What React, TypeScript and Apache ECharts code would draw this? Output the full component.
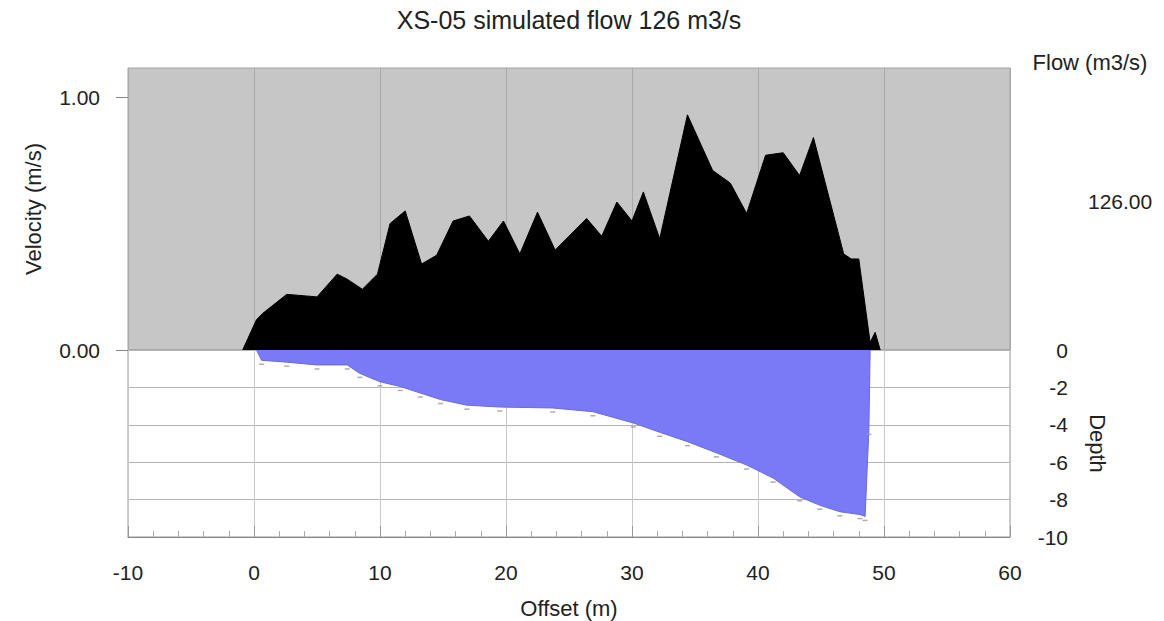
import React, { useEffect, useRef } from "react";
import * as echarts from "echarts";

// Cross-section XS-05: simulated velocity profile (top) and bed profile (bottom)
const TITLE = "XS-05 simulated flow 126 m3/s";
const FLOW = 126;

// Velocity distribution across the section
const velOffset = [-0.9, 0.2, 0.7, 2.6, 5.0, 6.6, 7.4, 8.6, 9.8, 10.8, 12.0, 13.3, 14.5, 15.8, 17.1, 18.6, 19.8, 21.1, 22.5, 23.9, 26.4, 27.6, 28.8, 30.0, 30.9, 32.2, 34.4, 36.4, 37.8, 39.1, 40.6, 42.0, 43.3, 44.4, 46.8, 47.4, 48.0, 48.9, 49.3, 49.7];
const velValue = [0, 0.12, 0.145, 0.22, 0.21, 0.3, 0.28, 0.24, 0.3, 0.5, 0.55, 0.34, 0.375, 0.51, 0.53, 0.43, 0.51, 0.38, 0.545, 0.395, 0.52, 0.45, 0.585, 0.51, 0.625, 0.44, 0.93, 0.71, 0.66, 0.54, 0.77, 0.78, 0.69, 0.84, 0.38, 0.36, 0.36, 0.03, 0.07, 0];

// Surveyed bed profile (depth below water surface)
const bedOffset = [0.2, 0.6, 2.6, 5.0, 7.4, 8.4, 10.0, 11.6, 13.2, 14.8, 16.9, 19.5, 23.7, 26.9, 30.1, 32.2, 34.4, 36.7, 39.1, 41.2, 43.3, 44.9, 46.5, 48.1, 48.5, 48.8, 48.9];
const bedDepth = [0, -0.55, -0.65, -0.8, -0.8, -1.25, -1.7, -1.95, -2.3, -2.65, -2.95, -3.05, -3.1, -3.3, -3.9, -4.4, -4.9, -5.5, -6.15, -6.85, -7.85, -8.3, -8.65, -8.8, -8.9, -4.3, 0];

const velocityTicks = [0, 1];
const flowTicks = [FLOW];

const FONT = "Liberation Sans, Arial, sans-serif";
const TXT = "#222";

export default function App() {
  const ref = useRef<HTMLDivElement>(null);

  useEffect(() => {
    if (!ref.current) return;
    const chart = echarts.init(ref.current, null, { renderer: "svg" });

    const velData = velOffset.map((x, i) => [x, velValue[i]]);
    const bedData = bedOffset.map((x, i) => [x, bedDepth[i]]);
    const bedMarks = bedData.filter((p) => p[1] < -0.3);

    chart.setOption({
      animation: false,
      backgroundColor: "#fff",
      textStyle: { fontFamily: FONT, color: TXT },
      graphic: [
        {
          type: "text",
          x: 569,
          y: 20,
          style: { text: TITLE, fontSize: 25, fontFamily: FONT, fill: TXT, textAlign: "center", textVerticalAlign: "middle" },
        },
        {
          type: "text",
          x: 1090,
          y: 62,
          style: { text: "Flow (m3/s)", fontSize: 22, fontFamily: FONT, fill: TXT, textAlign: "center", textVerticalAlign: "middle" },
        },
      ],
      grid: [
        { left: 128, width: 882, top: 68, height: 282, show: true, backgroundColor: "#c6c6c6", borderColor: "#a3a3a3", borderWidth: 1 },
        { left: 128, width: 882, top: 350, height: 187, show: true, backgroundColor: "#fff", borderColor: "#9a9a9a", borderWidth: 1 },
      ],
      xAxis: [
        {
          type: "value", gridIndex: 0, min: -10, max: 60, interval: 10,
          axisLine: { show: false, onZero: false }, axisTick: { show: false }, axisLabel: { show: false },
          splitLine: { show: true, lineStyle: { color: "#a9a9a9", width: 1 } },
        },
        {
          type: "value", gridIndex: 1, position: "bottom", min: -10, max: 60, interval: 10,
          name: "Offset (m)", nameLocation: "middle", nameGap: 60,
          nameTextStyle: { fontSize: 22, fontFamily: FONT, color: TXT },
          axisLine: { show: true, onZero: false, lineStyle: { color: "#888" } },
          axisTick: { show: true, inside: true, length: 11, lineStyle: { color: "#999" } },
          minorTick: { show: true, splitNumber: 5, length: 6, lineStyle: { color: "#aaa" } },
          axisLabel: { fontSize: 21, fontFamily: FONT, color: TXT, margin: 25 },
          splitLine: { show: true, lineStyle: { color: "#c8c8c8", width: 1 } },
        },
      ],
      yAxis: [
        {
          type: "value", gridIndex: 0, position: "left", min: 0, max: 1.115,
          name: "Velocity (m/s)", nameLocation: "middle", nameGap: 84,
          nameTextStyle: { fontSize: 22, fontFamily: FONT, color: TXT },
          axisLine: { show: false, onZero: false },
          axisTick: { show: true, length: 12, customValues: velocityTicks, lineStyle: { color: "#888" } },
          axisLabel: { fontSize: 21, fontFamily: FONT, color: TXT, margin: 28, customValues: velocityTicks, formatter: (v: number) => v.toFixed(2) },
          splitLine: { show: false },
        },
        {
          type: "value", gridIndex: 0, position: "right", min: 0, max: 240,
          axisLine: { show: false, onZero: false }, axisTick: { show: false },
          axisLabel: { fontSize: 21, fontFamily: FONT, color: TXT, margin: 78, customValues: flowTicks, formatter: (v: number) => v.toFixed(2) },
          splitLine: { show: false },
        },
        {
          type: "value", gridIndex: 1, position: "right", min: -10, max: 0, interval: 2,
          name: "Depth", nameLocation: "middle", nameGap: 76, nameRotate: -90,
          nameTextStyle: { fontSize: 22, fontFamily: FONT, color: TXT },
          axisLine: { show: false, onZero: false }, axisTick: { show: false },
          axisLabel: { fontSize: 21, fontFamily: FONT, color: TXT, margin: 58, align: "right" },
          splitLine: { show: true, lineStyle: { color: "#b4b4b4", width: 1 } },
        },
      ],
      series: [
        {
          name: "Velocity", type: "line", xAxisIndex: 0, yAxisIndex: 0, data: velData,
          symbol: "none", lineStyle: { color: "#000", width: 1 },
          areaStyle: { color: "#000", opacity: 1 }, z: 3,
        },
        {
          name: "Bed", type: "line", xAxisIndex: 1, yAxisIndex: 2, data: bedData,
          symbol: "none", lineStyle: { color: "#6a6ad8", width: 1 },
          areaStyle: { color: "#7a7af7", opacity: 1, origin: "end" }, z: 3,
        },
        {
          name: "Survey points", type: "scatter", xAxisIndex: 1, yAxisIndex: 2, data: bedMarks,
          symbol: "rect", symbolSize: [5, 1.5], symbolOffset: [0, 4],
          itemStyle: { color: "#9a9a9a" }, z: 4, silent: true,
        },
      ],
    });

    return () => chart.dispose();
  }, []);

  return <div ref={ref} style={{ position: "absolute", left: 0, top: 0, width: 1164, height: 621 }} />;
}
